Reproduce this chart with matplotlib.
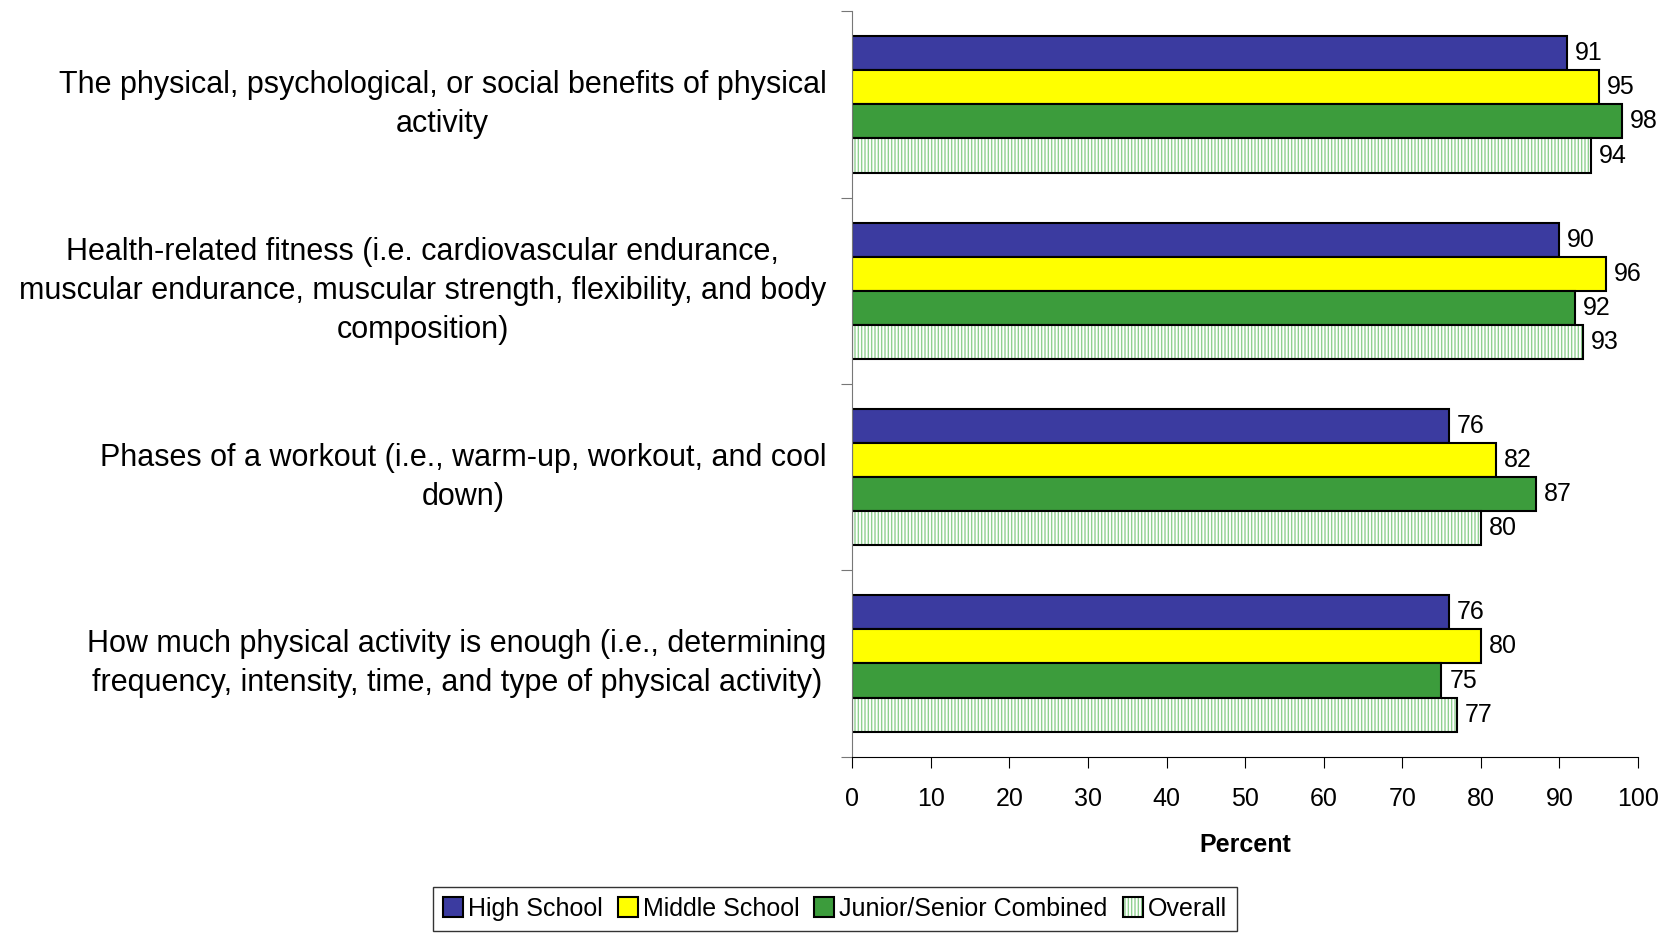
import numpy as np
import matplotlib
matplotlib.use('Agg')
import matplotlib.pyplot as plt

plt.rcParams['font.family'] = ['Liberation Sans', 'DejaVu Sans']
plt.rcParams['hatch.linewidth'] = 1.0

categories = [
    'The physical, psychological, or social benefits of physical\nactivity',
    'Health-related fitness (i.e. cardiovascular endurance,\nmuscular endurance, muscular strength, flexibility, and body\ncomposition)',
    'Phases of a workout (i.e., warm-up, workout, and cool\ndown)',
    'How much physical activity is enough (i.e., determining\nfrequency, intensity, time, and type of physical activity)',
]
series_names = ['High School', 'Middle School', 'Junior/Senior Combined', 'Overall']
high_school = [91, 90, 76, 76]
middle_school = [95, 96, 82, 80]
junior_senior = [98, 92, 87, 75]
overall = [94, 93, 80, 77]

series = [high_school, middle_school, junior_senior, overall]
faces = ['#3b3ba0', '#ffff00', '#3c9c3c', 'white']
hatches = [None, None, None, '|||||']
hatch_colors = ['black', 'black', 'black', '#8fd08f']

fig = plt.figure(figsize=(16.73, 9.33), dpi=100)
ax = fig.add_axes([0.5095, 0.189, 0.4695, 0.799])

n = len(categories)
bar_h = 0.183
for i, (vals, fc, h, hc) in enumerate(zip(series, faces, hatches, hatch_colors)):
    y = np.arange(n) - 1.5 * bar_h + i * bar_h
    bars = ax.barh(y, vals, height=bar_h, color=fc, edgecolor='black',
                   linewidth=1.5, label=series_names[i])
    if h:
        for b in bars:
            b.set_hatch(h)
            b._hatch_color = matplotlib.colors.to_rgba(hc)
    for yy, v in zip(y, vals):
        ax.text(v + 1.0, yy, str(v), va='center', ha='left', fontsize=18)

ax.set_xlim(0, 100)
ax.set_ylim(n - 0.5, -0.5)
ax.set_xticks(np.arange(0, 101, 10))
ax.tick_params(axis='x', labelsize=18, length=8, direction='out', pad=14)
ax.set_yticks(np.arange(-0.5, n, 1.0))
ax.set_yticklabels([])
ax.tick_params(axis='y', length=8, color='#777777')
ax.spines['top'].set_visible(False)
ax.spines['right'].set_visible(False)
ax.spines['left'].set_color('#777777')
ax.set_xlabel('Percent', fontsize=18, fontweight='bold', labelpad=16)

for i, lab in enumerate(categories):
    ax.text(-0.033, i, lab, transform=ax.get_yaxis_transform(), ha='right',
            va='center', multialignment='center', fontsize=22, linespacing=1.4)

leg = fig.legend(loc='center', bbox_to_anchor=(0.499, 0.026), ncol=4,
                 fontsize=18, frameon=True, fancybox=False, edgecolor='black',
                 handlelength=0.8, handleheight=0.8, handletextpad=0.2,
                 columnspacing=0.6, borderpad=0.4)
leg.get_frame().set_linewidth(1.0)

fig.savefig('out.png', dpi=100)
